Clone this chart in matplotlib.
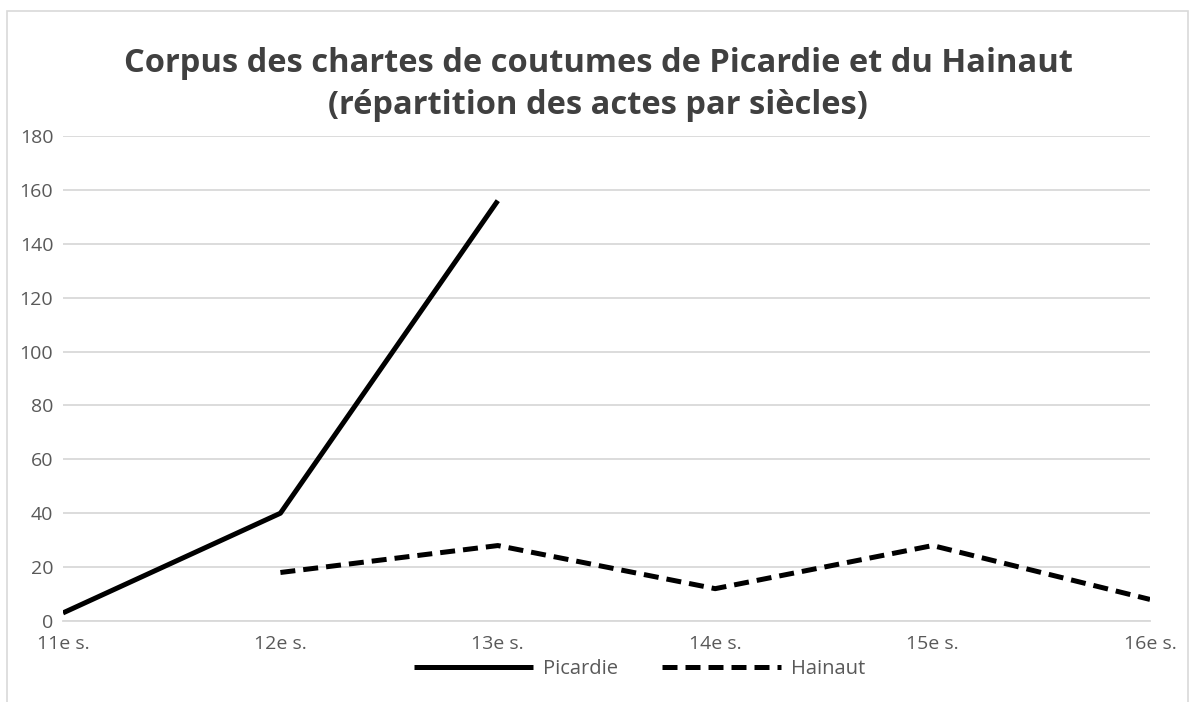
import numpy as np
import matplotlib.pyplot as plt
from matplotlib.patches import Rectangle

# data
siecles = ['11e s.', '12e s.', '13e s.', '14e s.', '15e s.', '16e s.']
picardie = [3, 40, 156, np.nan, np.nan, np.nan]
hainaut = [np.nan, 18, 28, 12, 28, 8]
yticks = [0, 20, 40, 60, 80, 100, 120, 140, 160, 180]

plt.rcParams['font.family'] = ['Open Sans', 'DejaVu Sans']
txt = '#595959'

fig = plt.figure(figsize=(11.89, 7.02), dpi=100)
ax = fig.add_axes([63 / 1189, 1 - 621 / 702, (1150 - 63) / 1189, (621 - 136) / 702])

# light frame around the chart area
fig.patches.append(Rectangle((7 / 1189, -0.01), 1 - 8 / 1189, 1 - 11 / 702 + 0.01,
                             transform=fig.transFigure, fill=False,
                             edgecolor='#d9d9d9', linewidth=1.2))

x = np.arange(len(siecles))
ax.plot(x, picardie, color='black', linewidth=3.6, label='Picardie',
        solid_capstyle='butt')
ax.plot(x, hainaut, color='black', linewidth=3.6, linestyle=(0, (3, 1.6)),
        label='Hainaut', dash_capstyle='butt')

ax.set_xlim(0, len(siecles) - 1)
ax.set_ylim(0, 180)
ax.set_yticks(yticks)
ax.set_xticks(x)
ax.set_xticklabels(siecles)
ax.grid(axis='y', color='#d9d9d9', linewidth=1.3)
ax.set_axisbelow(True)
for s in ['top', 'right', 'left']:
    ax.spines[s].set_visible(False)
ax.spines['bottom'].set_color('#d9d9d9')
ax.spines['bottom'].set_linewidth(1.3)
ax.tick_params(length=0, labelsize=14, colors=txt, pad=7)
ax.tick_params(axis='x', pad=10)

fig.text(0.503, 0.879, 'Corpus des chartes de coutumes de Picardie et du Hainaut\n(répartition des actes par siècles)',
         ha='center', va='center', fontsize=23.5, fontweight='bold', color='#404040',
         linespacing=1.36)

leg = fig.legend(loc='center', bbox_to_anchor=(0.538, 1 - 669 / 702), ncol=2,
                 frameon=False, fontsize=14.5, handlelength=5.9, columnspacing=2.2,
                 handletextpad=0.5)
for t in leg.get_texts():
    t.set_color(txt)

fig.savefig('out.png', dpi=100)
